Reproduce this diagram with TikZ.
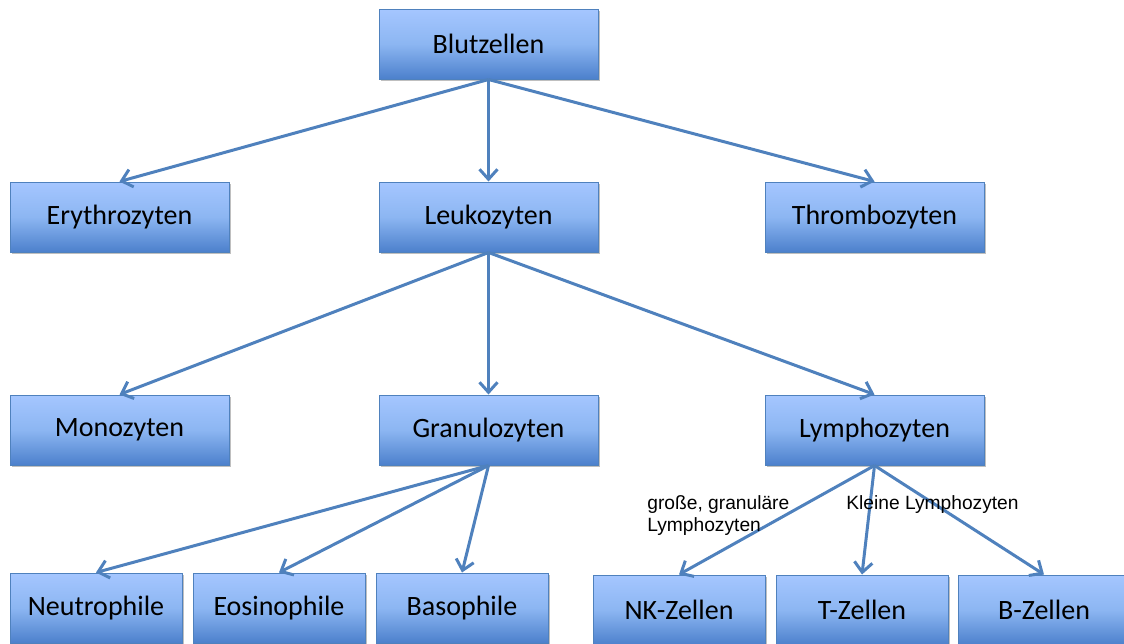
\documentclass[tikz,border=0pt]{standalone}
\usepackage{fontspec}
\setmainfont{Carlito}
\newfontfamily\labelfont{Liberation Sans}
\usetikzlibrary{math}
\usetikzlibrary{arrows.meta}
\usetikzlibrary{shadows}
\definecolor{boxline}{RGB}{79,129,189}
\definecolor{boxtop}{RGB}{165,198,255}
\definecolor{boxmid}{RGB}{140,182,242}
\definecolor{boxbot}{RGB}{76,128,204}
\tikzset{cell/.style={draw=boxline, line width=0.5pt, top color=boxtop, bottom color=boxbot, middle color=boxmid, minimum width=109.5pt, minimum height=35pt, inner sep=0pt, font=\fontsize{14}{16}\selectfont, drop shadow={shadow xshift=0.8pt, shadow yshift=-1.2pt, fill=black, opacity=0.25}},
	leaf/.style={cell, minimum width=86pt},
	link/.style={draw=boxline, line width=1.5pt, -{Straight Barb[length=5pt,width=9pt]}},
	note/.style={anchor=west, align=left, inner sep=0pt, font=\labelfont\fontsize{9.6}{11}\selectfont}}

\begin{document}
\begin{tikzpicture}[x=0.5pt,y=-0.5pt]
	\tikzmath{\ca=119.5; \cb=488.5; \cc=874.5;
	\ra=44; \rb=217; \rc=430; \rd=608; \re=610;
	\na=96; \nb=279; \nc=462; \nd=679; \ne=862; \nf=1044;
	}
	\useasboundingbox (0,0) rectangle (1124,643);
	\node[cell] (blut) at (\cb,\ra) {Blutzellen};
	\node[cell] (ery) at (\ca,\rb) {Erythrozyten};
	\node[cell] (leuko) at (\cb,\rb) {Leukozyten};
	\node[cell] (thrombo) at (\cc,\rb) {Thrombozyten};
	\node[cell] (mono) at (\ca,\rc) {Monozyten};
	\node[cell] (granu) at (\cb,\rc) {Granulozyten};
	\node[cell] (lympho) at (\cc,\rc) {Lymphozyten};
	\node[leaf] (neutro) at (\na,\rd) {Neutrophile};
	\node[leaf] (eosino) at (\nb,\rd) {Eosinophile};
	\node[leaf] (baso) at (\nc,\rd) {Basophile};
	\node[leaf] (nk) at (\nd,\re) {NK-Zellen};
	\node[leaf] (tz) at (\ne,\re) {T-Zellen};
	\node[leaf] (bz) at (\nf,\re) {B-Zellen};
	\draw[link] (blut.south) -- (ery.north);
	\draw[link] (blut.south) -- (leuko.north);
	\draw[link] (blut.south) -- (thrombo.north);
	\draw[link] (leuko.south) -- (mono.north);
	\draw[link] (leuko.south) -- (granu.north);
	\draw[link] (leuko.south) -- (lympho.north);
	\draw[link] (granu.south) -- (neutro.north);
	\draw[link] (granu.south) -- (eosino.north);
	\draw[link] (granu.south) -- (baso.north);
	\draw[link] (lympho.south) -- (nk.north);
	\draw[link] (lympho.south) -- (tz.north);
	\draw[link] (lympho.south) -- (bz.north);
	\node[note] (gross) at (647,516) {große, granuläre\\Lymphozyten};
	\node[note] (klein) at (846,505) {Kleine Lymphozyten};
\end{tikzpicture}
\end{document}
